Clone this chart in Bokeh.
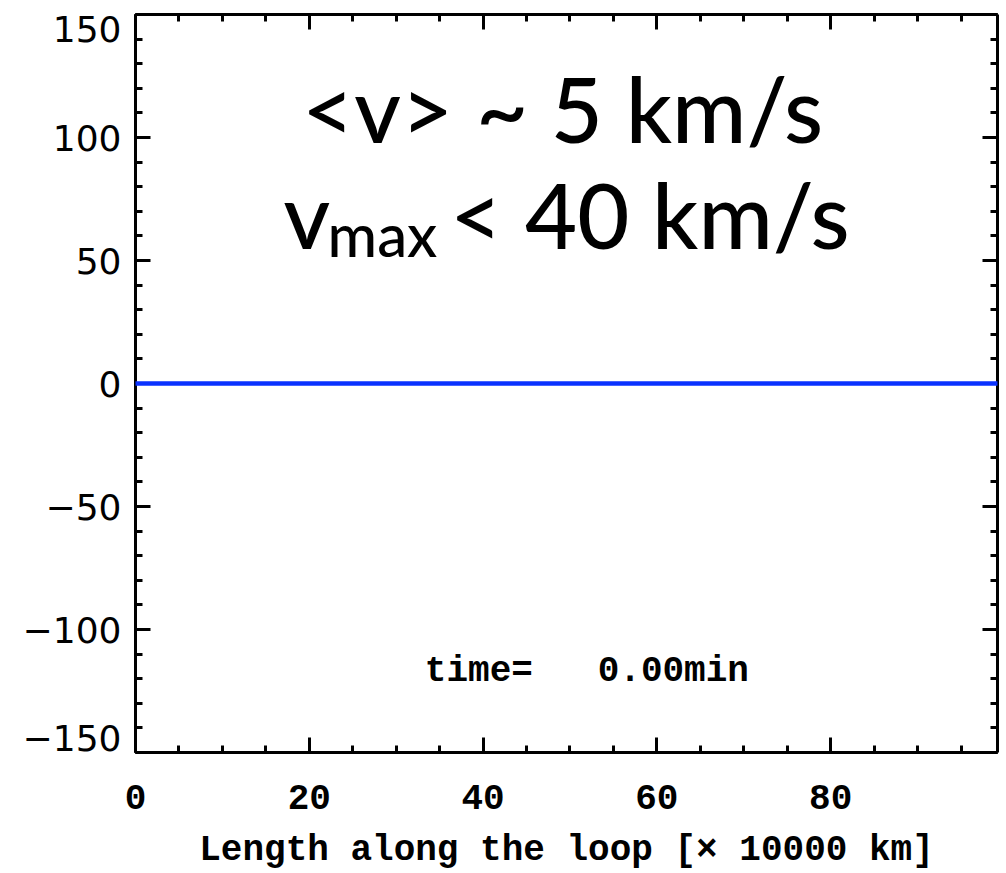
from bokeh.plotting import figure
from bokeh.models import (Range1d, LinearAxis, SingleIntervalTicker, FixedTicker, Label,
                          CustomJSTickFormatter)
from bokeh.embed import file_html
from bokeh.resources import INLINE

# ---- data ----
loop_length = [0.0, 20.0, 40.0, 60.0, 80.0, 99.2]   # x 10000 km
velocity = [0.0, 0.0, 0.0, 0.0, 0.0, 0.0]           # km/s at time 0
x_start, x_end = 0.0, 99.2
y_start, y_end = -150, 150
x_tick_step = 20
y_tick_step = 50
y_ticks = [-150, -100, -50, 0, 50, 100, 150]
title_line1 = "<v> ~ 5 km/s"
title_line2_main = "v"
title_line2_sub = "max"
title_line2_rest = "< 40 km/s"
time_text = "time=\u00a0\u00a0\u00a00.00min"
xlabel = "Length along the loop [\u00d7 10000 km]"

BIG_FONT = "Lato Medium"

p = figure(width=1006, height=873, output_backend="svg", toolbar_location=None,
           x_range=Range1d(x_start, x_end), y_range=Range1d(y_start, y_end),
           x_axis_type=None, y_axis_type=None,
           min_border_left=135, min_border_right=9, min_border_top=14,
           min_border_bottom=120)
p.outline_line_color = None
p.background_fill_color = "white"
p.border_fill_color = "white"
p.xgrid.visible = False
p.ygrid.visible = False


def style_axis(ax, show_labels):
    ax.axis_line_width = 3
    ax.axis_line_color = "black"
    ax.major_tick_in = 15
    ax.major_tick_out = 0
    ax.minor_tick_in = 7
    ax.minor_tick_out = 0
    ax.major_tick_line_width = 3
    ax.minor_tick_line_width = 3
    ax.major_tick_line_color = "black"
    ax.minor_tick_line_color = "black"
    ax.major_label_text_color = "black"
    if not show_labels:
        ax.formatter = CustomJSTickFormatter(code="return '';")
        ax.major_label_text_font_size = "0px"
        ax.major_label_standoff = 0


# bottom
xb = LinearAxis(ticker=SingleIntervalTicker(interval=x_tick_step, num_minor_ticks=4))
style_axis(xb, True)
xb.major_label_text_font = "Liberation Mono"
xb.major_label_text_font_style = "bold"
xb.major_label_text_font_size = "36px"
xb.major_label_standoff = 32
xb.axis_label = xlabel
xb.axis_label_text_font = "Liberation Mono"
xb.axis_label_text_font_style = "bold"
xb.axis_label_text_font_size = "36px"
xb.axis_label_text_color = "black"
xb.axis_label_standoff = 18
p.add_layout(xb, "below")

# top
xt = LinearAxis(ticker=SingleIntervalTicker(interval=x_tick_step, num_minor_ticks=4))
style_axis(xt, False)
p.add_layout(xt, "above")

# left: tick marks
yl = LinearAxis(ticker=SingleIntervalTicker(interval=y_tick_step, num_minor_ticks=5))
style_axis(yl, False)
p.add_layout(yl, "left")

# left: tick labels, the two end labels kept inside the picture (as in the original)
inset = 6.0
label_pos = [min(max(t, y_start + inset), y_end - inset) for t in y_ticks]
yl_lab = LinearAxis(ticker=FixedTicker(ticks=label_pos, minor_ticks=[]),
                    formatter=CustomJSTickFormatter(args=dict(step=y_tick_step), code="""
    const t = Math.round(tick / step) * step;
    return t < 0 ? '\\u2212' + Math.abs(t) : String(t);
"""))
yl_lab.axis_line_color = None
yl_lab.major_tick_line_color = None
yl_lab.major_tick_in = 0
yl_lab.major_tick_out = 0
yl_lab.major_label_text_font = "DejaVu Sans"
yl_lab.major_label_text_font_size = "36px"
yl_lab.major_label_text_color = "black"
yl_lab.major_label_standoff = 14
p.add_layout(yl_lab, "left")

# right
yr = LinearAxis(ticker=SingleIntervalTicker(interval=y_tick_step, num_minor_ticks=5))
style_axis(yr, False)
p.add_layout(yr, "right")

# data line (drawn above the tick marks, as in the original)
p.line(loop_length, velocity, line_color="#0a32ff", line_width=4.5, level="overlay")

# annotations
p.add_layout(Label(x=49.15, y=111.8, text=title_line1, text_font=BIG_FONT,
                   text_font_size="90px", text_align="center",
                   text_baseline="alphabetic", text_color="black"))
p.add_layout(Label(x=17.04, y=68.8, text=title_line2_main, text_font=BIG_FONT,
                   text_font_size="90px", text_align="left",
                   text_baseline="alphabetic", text_color="black"))
p.add_layout(Label(x=22.1, y=60.9, text=title_line2_sub, text_font=BIG_FONT,
                   text_font_size="60px", text_align="left",
                   text_baseline="alphabetic", text_color="black"))
p.add_layout(Label(x=36.2, y=68.8, text=title_line2_rest, text_font=BIG_FONT,
                   text_font_size="90px", text_align="left",
                   text_baseline="alphabetic", text_color="black"))
p.add_layout(Label(x=33.3, y=-117.1, text=time_text, text_font="Liberation Mono",
                   text_font_style="bold", text_font_size="36px", text_align="left",
                   text_baseline="alphabetic", text_color="black"))

open("out.html", "w").write(file_html(p, INLINE))
